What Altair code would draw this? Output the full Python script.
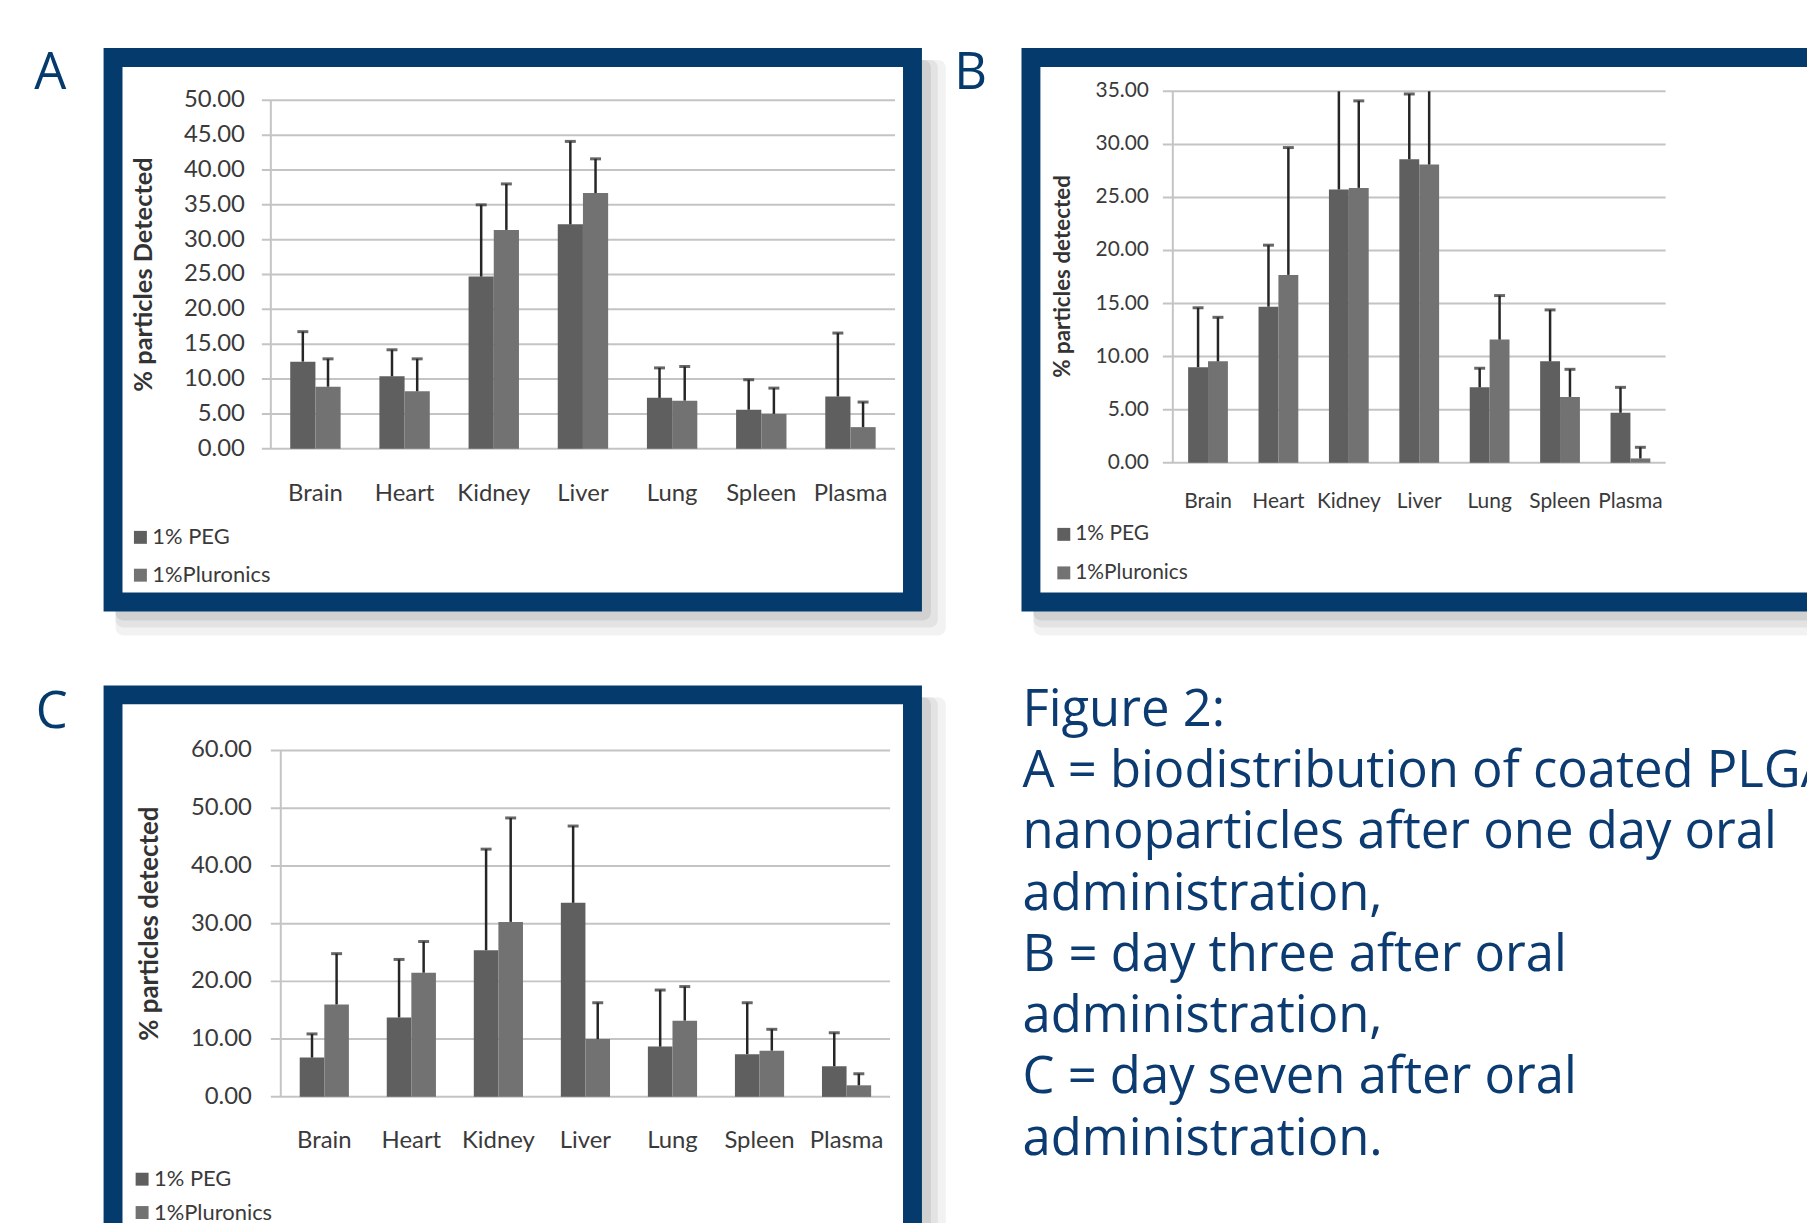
import altair as alt
import pandas as pd

# ---------------- data ----------------
ORGANS = ["Brain", "Heart", "Kidney", "Liver", "Lung", "Spleen", "Plasma"]
SERIES = ["1% PEG", "1%Pluronics"]

# Panel A: one day after oral administration
a_peg = [12.5, 10.4, 24.7, 32.2, 7.3, 5.6, 7.5]
a_peg_err = [16.8, 14.2, 35.0, 44.1, 11.6, 9.9, 16.6]
a_plu = [8.9, 8.25, 31.4, 36.7, 6.9, 5.0, 3.1]
a_plu_err = [12.9, 12.9, 38.0, 41.6, 11.8, 8.7, 6.7]

# Panel B: day three
b_peg = [9.0, 14.7, 25.75, 28.6, 7.1, 9.55, 4.7]
b_peg_err = [14.6, 20.5, 37.5, 34.75, 8.9, 14.4, 7.1]
b_plu = [9.55, 17.7, 25.9, 28.1, 11.6, 6.2, 0.4]
b_plu_err = [13.7, 29.7, 34.1, 37.0, 15.75, 8.8, 1.45]

# Panel C: day seven
c_peg = [6.8, 13.75, 25.4, 33.6, 8.7, 7.4, 5.3]
c_peg_err = [10.9, 23.8, 42.9, 46.9, 18.5, 16.3, 11.1]
c_plu = [16.0, 21.5, 30.3, 10.0, 13.2, 8.0, 2.0]
c_plu_err = [24.8, 26.9, 48.3, 16.3, 19.1, 11.7, 4.0]

A_TICKS = [0, 5, 10, 15, 20, 25, 30, 35, 40, 45, 50]
B_TICKS = [0, 5, 10, 15, 20, 25, 30, 35]
C_TICKS = [0, 10, 20, 30, 40, 50, 60]

CAPTION = [
    "Figure 2:",
    "A = biodistribution of coated PLGA",
    "nanoparticles after one day oral",
    "administration,",
    "B = day three after oral",
    "administration,",
    "C = day seven after oral",
    "administration.",
]

# ---------------- style / layout ----------------
W, H = 1807, 1215
NAVY = "#053a6d"
BAR_COLORS = ["#5f5f5f", "#727272"]
ERR = "#262626"
GRID = "#c4c4c4"
TXT = "#3a3a3a"
FONT = "Lato"
CAP_FONT = "Open Sans"


def v(p):
    # page pixel -> view pixel (page has an 8px margin)
    return p - 8


ONE = pd.DataFrame({"k": [0]})


def rect(x0, y0, x1, y1, color, opacity=1.0, radius=0):
    return alt.Chart(ONE).mark_rect(color=color, opacity=opacity, cornerRadius=radius).encode(
        x=alt.value(v(x0)), x2=alt.value(v(x1)), y=alt.value(v(y0)), y2=alt.value(v(y1))
    )


def frame(x0, y0, x1, y1, t=19):
    layers = []
    for d, op in [(24, 0.05), (16, 0.06), (9, 0.08)]:
        layers.append(rect(x0 + 12, y0 + 12, x1 + d, y1 + d, "black", op, 8))
    layers.append(rect(x0, y0, x1, y1, NAVY))
    layers.append(rect(x0 + t, y0 + t, x1 - t, y1 - t, "white"))
    return layers


PANELS = [
    dict(peg=a_peg, peg_err=a_peg_err, plu=a_plu, plu_err=a_plu_err, ticks=A_TICKS,
         frame=(104, 45.5, 926, 611.5), px=(272, 899), y0=448, ytop=98, gx=263,
         tick_fs=24, lab_right=246, x_fs=24, x_lab_y=493,
         title="% particles Detected", title_fs=25.5, title_xy=(145, 273),
         leg_x=130, leg_y=537, leg_fs=22, leg_gap=38, clamp=False),
    dict(peg=b_peg, peg_err=b_peg_err, plu=b_plu, plu_err=b_plu_err, ticks=B_TICKS,
         frame=(1026, 45.5, 1840, 611.5), px=(1178, 1673), y0=462, ytop=89, gx=1168,
         tick_fs=21, lab_right=1154, x_fs=21, x_lab_y=502,
         title="% particles detected", title_fs=22.5, title_xy=(1068, 275),
         leg_x=1058, leg_y=534, leg_fs=21, leg_gap=37.7, clamp=True),
    dict(peg=c_peg, peg_err=c_peg_err, plu=c_plu, plu_err=c_plu_err, ticks=C_TICKS,
         frame=(104, 685.7, 926, 1260), px=(282, 894), y0=1099, ytop=751, gx=272,
         tick_fs=24, lab_right=253, x_fs=24, x_lab_y=1143,
         title="% particles detected", title_fs=26, title_xy=(150.5, 925),
         leg_x=131.7, leg_y=1181.7, leg_fs=22, leg_gap=33.5, clamp=False),
]


def panel(p):
    df = pd.DataFrame({
        "organ": ORGANS * 2,
        "series": [SERIES[0]] * len(ORGANS) + [SERIES[1]] * len(ORGANS),
        "value": p["peg"] + p["plu"],
        "err": p["peg_err"] + p["plu_err"],
    })
    ymax = p["ticks"][-1]
    xs = alt.Scale(domain=ORGANS, range=[v(p["px"][0]), v(p["px"][1])],
                   paddingInner=0.435, paddingOuter=0.2175)
    ys = alt.Scale(domain=[0, ymax], range=[v(p["y0"]), v(p["ytop"])],
                   nice=False, zero=True, clamp=p["clamp"])
    offs = alt.Scale(domain=SERIES, paddingInner=0, paddingOuter=0)

    ticks_df = pd.DataFrame({"tick": p["ticks"]})
    grid = alt.Chart(ticks_df).mark_rule(color=GRID, strokeWidth=2).encode(
        y=alt.Y("tick:Q", scale=ys, axis=None),
        x=alt.value(v(p["gx"])), x2=alt.value(v(p["px"][1])),
    )
    domain_line = alt.Chart(ONE).mark_rule(color=GRID, strokeWidth=2).encode(
        x=alt.value(v(p["px"][0])), y=alt.value(v(p["ytop"])), y2=alt.value(v(p["y0"]))
    )
    y_labels = alt.Chart(ticks_df).mark_text(
        font=FONT, fontSize=p["tick_fs"], color=TXT, align="right", baseline="middle"
    ).encode(
        y=alt.Y("tick:Q", scale=ys, axis=None),
        x=alt.value(v(p["lab_right"])),
        text=alt.Text("tick:Q", format=".2f"),
    )
    x_labels = alt.Chart(pd.DataFrame({"organ": ORGANS})).mark_text(
        font=FONT, fontSize=p["x_fs"], color=TXT, align="center", baseline="middle"
    ).encode(
        x=alt.X("organ:N", scale=xs, axis=None),
        y=alt.value(v(p["x_lab_y"])),
        text="organ:N",
    )
    y_title = alt.Chart(ONE).mark_text(
        text=p["title"], font=FONT, fontSize=p["title_fs"], fontWeight="bold",
        color="#333333", angle=270, align="center", baseline="middle"
    ).encode(x=alt.value(v(p["title_xy"][0])), y=alt.value(v(p["title_xy"][1])))

    base = alt.Chart(df)
    bars = base.mark_bar().encode(
        x=alt.X("organ:N", scale=xs, axis=None),
        xOffset=alt.XOffset("series:N", scale=offs),
        y=alt.Y("value:Q", scale=ys, axis=None),
        color=alt.Color("series:N", scale=alt.Scale(domain=SERIES, range=BAR_COLORS),
                        legend=alt.Legend(orient="none", legendX=v(p["leg_x"]),
                                          legendY=v(p["leg_y"]) - p["leg_fs"] / 2,
                                          title=None, direction="vertical",
                                          symbolType="square", symbolSize=169,
                                          symbolStrokeWidth=0, labelFont=FONT,
                                          labelFontSize=p["leg_fs"], labelColor=TXT,
                                          labelOffset=1, padding=0,
                                          rowPadding=p["leg_gap"] - p["leg_fs"], zindex=1)),
    )
    errs = base.mark_rule(color=ERR, strokeWidth=2.5).encode(
        x=alt.X("organ:N", scale=xs, axis=None),
        xOffset=alt.XOffset("series:N", scale=offs),
        y=alt.Y("value:Q", scale=ys, axis=None),
        y2="err:Q",
    )
    caps = base.transform_filter(alt.datum.err <= ymax).mark_tick(
        color=ERR, thickness=3, size=11
    ).encode(
        x=alt.X("organ:N", scale=xs, axis=None),
        xOffset=alt.XOffset("series:N", scale=offs),
        y=alt.Y("err:Q", scale=ys, axis=None),
    )
    return alt.layer(*frame(*p["frame"]), grid, domain_line, bars, errs, caps,
                     y_labels, x_labels, y_title)


def letter(ch, cx, base_y):
    return alt.Chart(ONE).mark_text(
        text=ch, font=CAP_FONT, fontSize=51, fontWeight=500, color=NAVY,
        align="center", baseline="alphabetic"
    ).encode(x=alt.value(v(cx)), y=alt.value(v(base_y)))


caption = alt.Chart(ONE).mark_text(
    text=CAPTION, font=CAP_FONT, fontSize=51, fontWeight=500, color="#0b3b70", align="left",
    baseline="alphabetic", lineHeight=61.5
).encode(x=alt.value(v(1027)), y=alt.value(v(726.4)))

chart = alt.layer(
    panel(PANELS[0]), panel(PANELS[1]), panel(PANELS[2]),
    letter("A", 50.5, 87), letter("B", 975, 86.7), letter("C", 52, 728),
    caption,
).resolve_scale(
    x="independent", y="independent", xOffset="independent", color="independent"
).resolve_legend(color="independent").properties(
    width=W, height=H, padding=0, autosize=alt.AutoSizeParams(type="none"),
    background="white",
).configure_view(stroke=None)

chart.save("out.html", embed_options={"renderer": "svg", "actions": False})
